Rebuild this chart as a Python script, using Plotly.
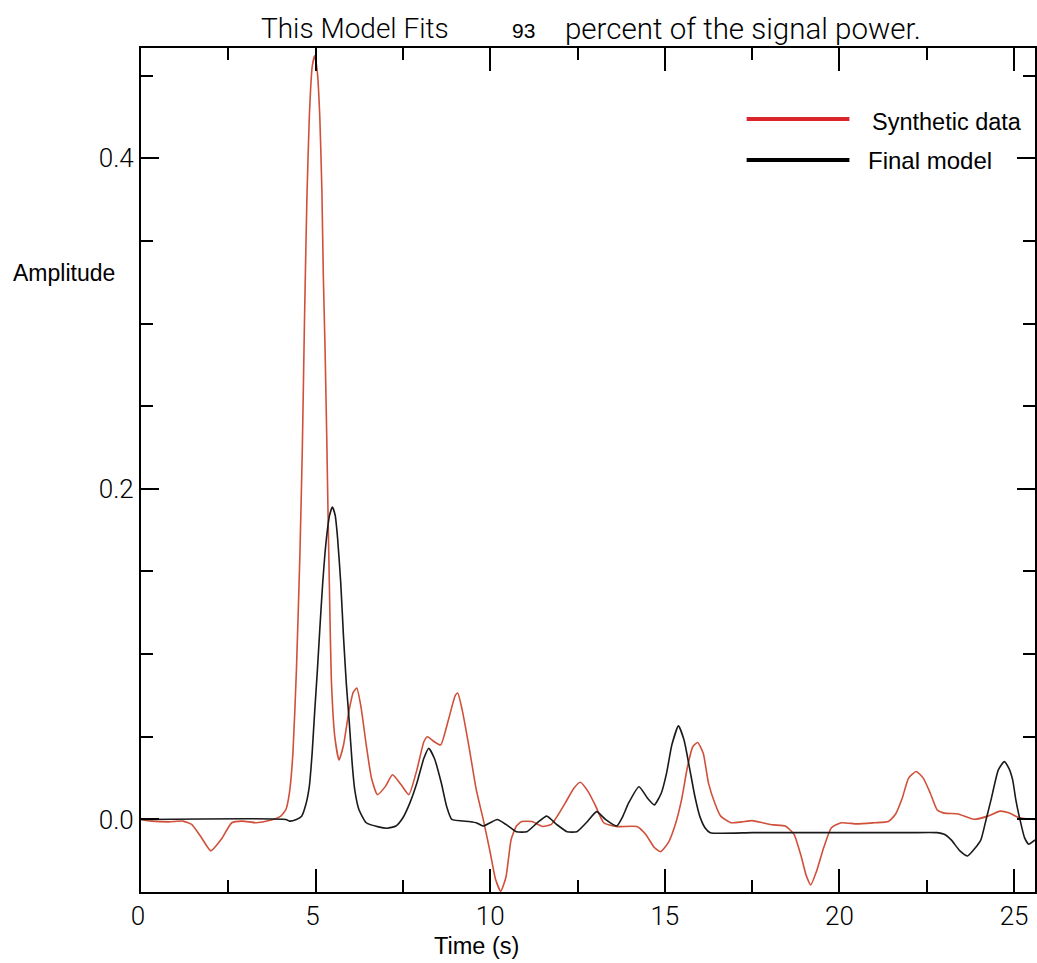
import plotly.graph_objects as go

# ---- data ----
syn_t = [0.0, 0.3, 0.8, 1.2, 1.45, 1.7, 2.0, 2.3, 2.6, 2.9, 3.3, 3.7, 4.0, 4.15, 4.25, 4.35, 4.45,
         4.55, 4.62, 4.68, 4.75, 4.82, 4.90, 4.97, 5.05, 5.12, 5.18, 5.22, 5.27, 5.32, 5.36, 5.40,
         5.45, 5.55, 5.67, 5.80, 5.95, 6.08, 6.18, 6.30, 6.45, 6.60, 6.77, 7.0, 7.2, 7.45, 7.67,
         7.9, 8.1, 8.2, 8.4, 8.58, 8.8, 9.0, 9.07, 9.2, 9.4, 9.6, 9.8, 10.0, 10.15, 10.3, 10.45,
         10.6, 10.75, 10.9, 11.2, 11.5, 11.75, 11.95, 12.15, 12.4, 12.58, 12.8, 13.0, 13.25, 13.6,
         14.2, 14.45, 14.7, 14.88, 15.1, 15.3, 15.48, 15.65, 15.8, 15.94, 16.1, 16.25, 16.43, 16.6,
         16.9, 17.2, 17.5, 17.8, 18.1, 18.45, 18.7, 18.9, 19.05, 19.18, 19.35, 19.55, 19.77, 20.05,
         20.5, 21.0, 21.4, 21.6, 21.8, 21.98, 22.2, 22.4, 22.6, 22.8, 23.0, 23.4, 23.85, 24.25,
         24.6, 24.85, 25.15, 25.6]
syn_v = [0.0, -0.001, -0.0015, -0.001, -0.003, -0.010, -0.019, -0.012, -0.002, -0.001, -0.002,
         -0.0005, 0.002, 0.006, 0.016, 0.040, 0.090, 0.160, 0.225, 0.300, 0.375, 0.425, 0.455,
         0.462, 0.452, 0.425, 0.380, 0.330, 0.285, 0.230, 0.180, 0.135, 0.085, 0.050, 0.036,
         0.045, 0.065, 0.077, 0.0795, 0.068, 0.045, 0.025, 0.015, 0.020, 0.027, 0.021, 0.015,
         0.030, 0.047, 0.050, 0.047, 0.045, 0.060, 0.075, 0.0765, 0.066, 0.043, 0.018, 0.000,
         -0.020, -0.036, -0.0435, -0.035, -0.012, -0.004, -0.0013, -0.0013, -0.0043, -0.003,
         0.003, 0.010, 0.019, 0.0225, 0.017, 0.009, -0.002, -0.0043, -0.0043, -0.009, -0.017,
         -0.0195, -0.014, -0.003, 0.012, 0.032, 0.044, 0.0465, 0.040, 0.022, 0.010, 0.002,
         -0.002, -0.0015, -0.0007, -0.002, -0.0033, -0.004, -0.009, -0.022, -0.034, -0.0396,
         -0.031, -0.017, -0.005, -0.002, -0.0027, -0.002, -0.0013, 0.003, 0.013, 0.025, 0.029,
         0.025, 0.016, 0.0057, 0.0038, 0.0033, 0.0001, 0.002, 0.005, 0.004, 0.001, 0.0]

mod_t = [0.0, 4.15, 4.25, 4.45, 4.6, 4.72, 4.82, 4.9, 4.97, 5.05, 5.12, 5.2, 5.3, 5.4, 5.48, 5.56,
         5.63, 5.72, 5.8, 5.88, 5.96, 6.05, 6.12, 6.24, 6.45, 6.8, 7.05, 7.3, 7.5, 7.7, 7.9, 8.1,
         8.24, 8.4, 8.6, 8.75, 8.9, 9.4, 9.6, 9.8, 10.0, 10.2, 10.45, 10.75, 11.05, 11.35, 11.62,
         11.9, 12.2, 12.48, 12.75, 13.05, 13.3, 13.62, 13.8, 13.96, 14.26, 14.5, 14.7, 14.9,
         15.05, 15.2, 15.39, 15.55, 15.7, 15.86, 16.0, 16.15, 16.3, 17.5, 19.0, 20.5, 22.0, 22.8,
         23.0, 23.2, 23.45, 23.67, 23.9, 24.05, 24.2, 24.34, 24.55, 24.72, 24.85, 24.96, 25.05,
         25.15, 25.3, 25.42, 25.6]
mod_v = [0.0, 0.0, -0.001, 0.0, 0.002, 0.009, 0.020, 0.040, 0.064, 0.090, 0.115, 0.142, 0.168,
         0.184, 0.189, 0.184, 0.170, 0.143, 0.110, 0.082, 0.060, 0.033, 0.018, 0.006, -0.002,
         -0.0045, -0.0053, -0.004, 0.001, 0.010, 0.022, 0.037, 0.043, 0.037, 0.022, 0.008, 0.0,
         -0.0013, -0.002, -0.004, -0.002, 0.0, -0.003, -0.0074, -0.0074, -0.002, 0.002, -0.003,
         -0.0074, -0.0074, -0.002, 0.0047, 0.0, -0.004, 0.002, 0.0098, 0.0198, 0.013, 0.0088,
         0.016, 0.028, 0.045, 0.0566, 0.048, 0.032, 0.014, 0.002, -0.005, -0.008, -0.008, -0.008,
         -0.008, -0.008, -0.008, -0.009, -0.0124, -0.019, -0.0221, -0.017, -0.0124, 0.0, 0.0118,
         0.030, 0.035, 0.031, 0.0239, 0.012, 0.0017, -0.011, -0.015, -0.0124]

x_tickvals = [0, 5, 10, 15, 20, 25]
x_ticktext = ["0\u00a0", "5\u00a0", "10", "15", "20", "25"]
y_tickvals = [0.0, 0.2, 0.4]
y_ticktext = ["0.0", "0.2", "0.4"]

title_parts = ["This Model Fits", "93", "percent of the signal power."]
legend_names = ["Synthetic data", "Final model"]

# ---- layout geometry (pixels) ----
W, H = 1037, 963
L, R, T, B = 141, 1037, 48, 892
PW, PH = R - L, B - T


def fx(px):
    return (px - L) / PW


def fy(py):
    return (B - py) / PH


NARROW = "Roboto, Liberation Sans Narrow, sans-serif"
ARIAL = "Liberation Sans, Arial, sans-serif"

fig = go.Figure()
fig.add_trace(go.Scatter(x=syn_t, y=syn_v, mode="lines", name=legend_names[0],
                         line=dict(color="#d0503a", width=1.6, shape="spline", smoothing=0.5),
                         showlegend=False))
fig.add_trace(go.Scatter(x=mod_t, y=mod_v, mode="lines", name=legend_names[1],
                         line=dict(color="#1a1a1a", width=1.6, shape="spline", smoothing=0.5),
                         showlegend=False))

axis_common = dict(showline=True, linecolor="black", linewidth=2, mirror="ticks",
                   ticks="inside", tickcolor="black", tickwidth=1.5, showgrid=False,
                   zeroline=False,
                   tickfont=dict(family=NARROW, size=26, color="black", weight=300))

fig.update_xaxes(range=[0, 25.6], tickmode="array", tickvals=x_tickvals, ticktext=x_ticktext,
                 ticklen=23,
                 minor=dict(ticks="inside", tickmode="array", tickvals=[2.5, 7.5, 12.5, 17.5, 22.5],
                            ticklen=12, tickcolor="black", tickwidth=1.5, showgrid=False),
                 **axis_common)
fig.update_yaxes(range=[-0.0439, 0.4667], tickmode="array", tickvals=y_tickvals,
                 ticktext=y_ticktext, ticklen=18,
                 minor=dict(ticks="inside", tickmode="array",
                            tickvals=[0.05, 0.1, 0.15, 0.25, 0.3, 0.35, 0.45],
                            ticklen=12, tickcolor="black", tickwidth=1.5, showgrid=False),
                 **axis_common)

annotations = [
    dict(text=title_parts[0], x=fx(355), y=fy(29), font=dict(family=NARROW, size=28, weight=300)),
    dict(text=title_parts[1], x=fx(524), y=fy(31), font=dict(family=ARIAL, size=21)),
    dict(text=title_parts[2], x=fx(744), y=fy(29), font=dict(family=NARROW, size=29.5, weight=300)),
    dict(text="Amplitude", x=fx(64), y=fy(273), font=dict(family=ARIAL, size=23)),
    dict(text="Time (s)", x=fx(477), y=fy(946), font=dict(family=ARIAL, size=23.5)),
    dict(text=legend_names[0], x=fx(872), y=fy(122), xanchor="left",
         font=dict(family=ARIAL, size=23.5)),
    dict(text=legend_names[1], x=fx(868), y=fy(160), xanchor="left",
         font=dict(family=ARIAL, size=24)),
]
for a in annotations:
    a.setdefault("xanchor", "center")
    a.update(xref="paper", yref="paper", yanchor="middle", showarrow=False)
    a["font"]["color"] = "black"
fig.update_layout(annotations=annotations)

fig.add_shape(type="line", xref="paper", yref="paper", x0=fx(748), x1=fx(851), y0=fy(119),
              y1=fy(119), line=dict(color="#d8262c", width=4))
fig.add_shape(type="line", xref="paper", yref="paper", x0=fx(748), x1=fx(851), y0=fy(160),
              y1=fy(160), line=dict(color="black", width=4))

fig.update_layout(width=W, height=H, margin=dict(l=L, r=W - R, t=T, b=H - B, pad=0),
                  paper_bgcolor="white", plot_bgcolor="white", showlegend=False)

fig.write_html("out.html")
